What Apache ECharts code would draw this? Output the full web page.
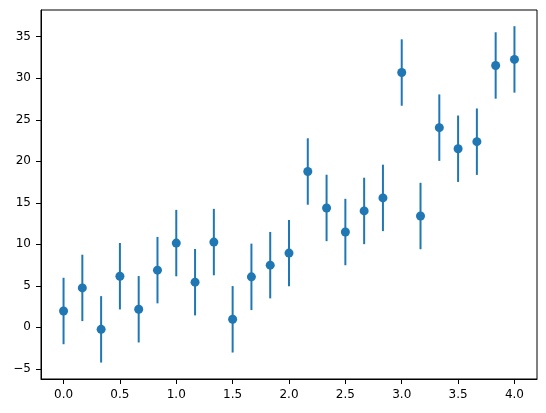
<!DOCTYPE html>
<html>
<head>
<meta charset="utf-8">
<script src="https://cdn.jsdelivr.net/npm/echarts@6/dist/echarts.min.js"></script>
<style>html,body{margin:0;padding:0;background:#fff}#c{width:546px;height:413px}</style>
</head>
<body>
<div id="c"></div>
<script>
const xs = [0, 1/6, 2/6, 0.5, 4/6, 5/6, 1.0, 7/6, 8/6, 1.5, 10/6, 11/6, 2.0, 13/6, 14/6, 2.5, 16/6, 17/6, 3.0, 19/6, 20/6, 3.5, 22/6, 23/6, 4.0];
const ys = [1.97, 4.75, -0.24, 6.16, 2.18, 6.89, 10.15, 5.44, 10.27, 0.97, 6.08, 7.49, 8.94, 18.77, 14.38, 11.48, 14.02, 15.59, 30.69, 13.41, 24.05, 21.51, 22.36, 31.54, 32.27];
const errs = [4, 4, 4, 4, 4, 4, 4, 4, 4, 4, 4, 4, 4, 4, 4, 4, 4, 4, 4, 4, 4, 4, 4, 4, 4];
const xTicks = [0, 0.5, 1, 1.5, 2, 2.5, 3, 3.5, 4];
const yTicks = [-5, 0, 5, 10, 15, 20, 25, 30, 35];

const color = '#1f77b4';
const pts = xs.map((x, i) => [x, ys[i], errs[i]]);
const font = 'DejaVu Sans';
const fmt = v => String(v).replace('-', '\u2212');
const fmtX = v => Number(v).toFixed(1);

const chart = echarts.init(document.getElementById('c'), null, {renderer: 'canvas'});
chart.setOption({
  animation: false,
  backgroundColor: '#fff',
  grid: {left: 41, right: 9, top: 10, bottom: 34, show: true, borderColor: '#000', borderWidth: 1, containLabel: false},
  xAxis: {
    type: 'value', min: -0.2, max: 4.2,
    splitLine: {show: false},
    axisLine: {show: true, onZero: false, lineStyle: {color: '#000', width: 1}},
    axisTick: {show: true, length: 5, inside: false, customValues: xTicks, lineStyle: {color: '#000'}},
    axisLabel: {customValues: xTicks, formatter: fmtX, color: '#000', fontFamily: font, fontSize: 12, margin: 10}
  },
  yAxis: {
    type: 'value', min: -6.22, max: 38.22,
    splitLine: {show: false},
    axisLine: {show: true, onZero: false, lineStyle: {color: '#000', width: 1}},
    axisTick: {show: true, length: 5, inside: false, customValues: yTicks, lineStyle: {color: '#000'}},
    axisLabel: {customValues: yTicks, formatter: fmt, color: '#000', fontFamily: font, fontSize: 12, margin: 10}
  },
  series: [
    {
      type: 'custom',
      z: 1,
      clip: false,
      data: pts,
      renderItem: function (params, api) {
        const x = api.value(0), y = api.value(1), e = api.value(2);
        const p1 = api.coord([x, y - e]);
        const p2 = api.coord([x, y + e]);
        return {
          type: 'line',
          shape: {x1: p1[0], y1: p1[1], x2: p2[0], y2: p2[1]},
          style: {stroke: color, lineWidth: 2}
        };
      }
    },
    {
      type: 'scatter',
      z: 2,
      data: pts.map(p => [p[0], p[1]]),
      symbol: 'circle',
      symbolSize: 9,
      itemStyle: {color: color, opacity: 1}
    }
  ]
});
</script>
</body>
</html>
